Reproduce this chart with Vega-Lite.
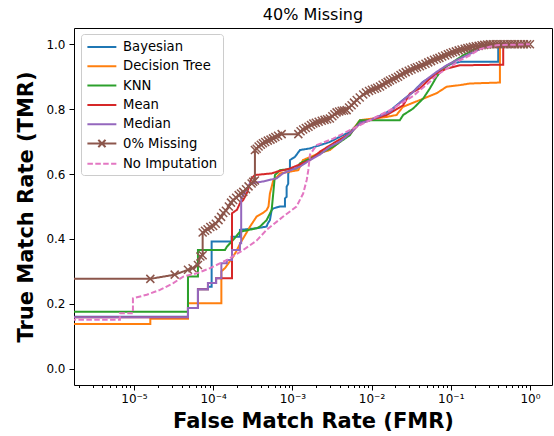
{
  "$schema": "https://vega.github.io/schema/vega-lite/v6.json",
  "width": 478,
  "height": 357,
  "autosize": {"type": "none"},
  "padding": {"left": 74, "top": 28, "right": 2, "bottom": 51},
  "background": "white",
  "title": {"text": "40% Missing", "fontSize": 16, "fontWeight": "normal", "font": "DejaVu Sans", "color": "black", "anchor": "middle", "offset": 5},
  "config": {
    "font": "DejaVu Sans",
    "view": {"stroke": "black", "strokeWidth": 1}
  },
  "data": {"values": [
    {"s":"Bayesian","i":0,"x":1e-6,"y":0.16},{"s":"Bayesian","i":1,"x":4.81e-5,"y":0.16},{"s":"Bayesian","i":2,"x":4.81e-5,"y":0.187},{"s":"Bayesian","i":3,"x":6.43e-5,"y":0.187},{"s":"Bayesian","i":4,"x":6.43e-5,"y":0.245},{"s":"Bayesian","i":5,"x":8.6e-5,"y":0.245},{"s":"Bayesian","i":6,"x":8.6e-5,"y":0.253},{"s":"Bayesian","i":7,"x":9.57e-5,"y":0.253},{"s":"Bayesian","i":8,"x":9.57e-5,"y":0.392},{"s":"Bayesian","i":9,"x":1.71e-4,"y":0.392},{"s":"Bayesian","i":10,"x":1.71e-4,"y":0.407},{"s":"Bayesian","i":11,"x":2.18e-4,"y":0.407},{"s":"Bayesian","i":12,"x":2.18e-4,"y":0.428},{"s":"Bayesian","i":13,"x":3.54e-4,"y":0.433},{"s":"Bayesian","i":14,"x":4.73e-4,"y":0.438},{"s":"Bayesian","i":15,"x":4.9e-4,"y":0.448},{"s":"Bayesian","i":16,"x":5.21e-4,"y":0.458},{"s":"Bayesian","i":17,"x":5.48e-4,"y":0.489},{"s":"Bayesian","i":18,"x":5.74e-4,"y":0.494},{"s":"Bayesian","i":19,"x":6.97e-4,"y":0.5},{"s":"Bayesian","i":20,"x":8.07e-4,"y":0.5},{"s":"Bayesian","i":21,"x":8.07e-4,"y":0.525},{"s":"Bayesian","i":22,"x":8.47e-4,"y":0.53},{"s":"Bayesian","i":23,"x":8.47e-4,"y":0.561},{"s":"Bayesian","i":24,"x":8.87e-4,"y":0.57},{"s":"Bayesian","i":25,"x":8.87e-4,"y":0.602},{"s":"Bayesian","i":26,"x":9.33e-4,"y":0.61},{"s":"Bayesian","i":27,"x":9.33e-4,"y":0.643},{"s":"Bayesian","i":28,"x":1.08e-3,"y":0.653},{"s":"Bayesian","i":29,"x":1.25e-3,"y":0.674},{"s":"Bayesian","i":30,"x":1.67e-3,"y":0.679},{"s":"Bayesian","i":31,"x":2.23e-3,"y":0.689},{"s":"Bayesian","i":32,"x":2.98e-3,"y":0.699},{"s":"Bayesian","i":33,"x":3.99e-3,"y":0.715},{"s":"Bayesian","i":34,"x":5.33e-3,"y":0.73},{"s":"Bayesian","i":35,"x":7.14e-3,"y":0.76},{"s":"Bayesian","i":36,"x":9.55e-3,"y":0.766},{"s":"Bayesian","i":37,"x":0.0128,"y":0.78},{"s":"Bayesian","i":38,"x":0.0171,"y":0.795},{"s":"Bayesian","i":39,"x":0.0249,"y":0.828},{"s":"Bayesian","i":40,"x":0.0333,"y":0.853},{"s":"Bayesian","i":41,"x":0.0446,"y":0.884},{"s":"Bayesian","i":42,"x":0.0669,"y":0.91},{"s":"Bayesian","i":43,"x":0.0895,"y":0.935},{"s":"Bayesian","i":44,"x":0.1306,"y":0.946},{"s":"Bayesian","i":45,"x":0.398,"y":0.946},{"s":"Bayesian","i":46,"x":0.398,"y":0.997},{"s":"Bayesian","i":47,"x":0.46,"y":1.0},{"s":"Bayesian","i":48,"x":1.0,"y":1.0},

    {"s":"Decision Tree","i":0,"x":1e-6,"y":0.138},{"s":"Decision Tree","i":1,"x":1.61e-5,"y":0.138},{"s":"Decision Tree","i":2,"x":1.61e-5,"y":0.154},{"s":"Decision Tree","i":3,"x":4.81e-5,"y":0.154},{"s":"Decision Tree","i":4,"x":4.81e-5,"y":0.202},{"s":"Decision Tree","i":5,"x":1.27e-4,"y":0.202},{"s":"Decision Tree","i":6,"x":1.27e-4,"y":0.3},{"s":"Decision Tree","i":7,"x":1.41e-4,"y":0.31},{"s":"Decision Tree","i":8,"x":1.73e-4,"y":0.34},{"s":"Decision Tree","i":9,"x":1.94e-4,"y":0.36},{"s":"Decision Tree","i":10,"x":2.24e-4,"y":0.39},{"s":"Decision Tree","i":11,"x":2.65e-4,"y":0.42},{"s":"Decision Tree","i":12,"x":2.92e-4,"y":0.438},{"s":"Decision Tree","i":13,"x":3.54e-4,"y":0.469},{"s":"Decision Tree","i":14,"x":4.25e-4,"y":0.48},{"s":"Decision Tree","i":15,"x":4.73e-4,"y":0.489},{"s":"Decision Tree","i":16,"x":5.0e-4,"y":0.5},{"s":"Decision Tree","i":17,"x":5.21e-4,"y":0.54},{"s":"Decision Tree","i":18,"x":5.74e-4,"y":0.58},{"s":"Decision Tree","i":19,"x":6.34e-4,"y":0.59},{"s":"Decision Tree","i":20,"x":6.97e-4,"y":0.602},{"s":"Decision Tree","i":21,"x":1.19e-3,"y":0.612},{"s":"Decision Tree","i":22,"x":1.36e-3,"y":0.643},{"s":"Decision Tree","i":23,"x":2.23e-3,"y":0.665},{"s":"Decision Tree","i":24,"x":2.98e-3,"y":0.674},{"s":"Decision Tree","i":25,"x":3.99e-3,"y":0.7},{"s":"Decision Tree","i":26,"x":5.33e-3,"y":0.725},{"s":"Decision Tree","i":27,"x":7.14e-3,"y":0.766},{"s":"Decision Tree","i":28,"x":0.0155,"y":0.776},{"s":"Decision Tree","i":29,"x":0.0207,"y":0.782},{"s":"Decision Tree","i":30,"x":0.0249,"y":0.807},{"s":"Decision Tree","i":31,"x":0.0408,"y":0.828},{"s":"Decision Tree","i":32,"x":0.0664,"y":0.849},{"s":"Decision Tree","i":33,"x":0.0887,"y":0.869},{"s":"Decision Tree","i":34,"x":0.1306,"y":0.874},{"s":"Decision Tree","i":35,"x":0.175,"y":0.879},{"s":"Decision Tree","i":36,"x":0.418,"y":0.882},{"s":"Decision Tree","i":37,"x":0.418,"y":0.99},{"s":"Decision Tree","i":38,"x":0.484,"y":1.0},{"s":"Decision Tree","i":39,"x":1.0,"y":1.0},

    {"s":"KNN","i":0,"x":1e-6,"y":0.176},{"s":"KNN","i":1,"x":4.81e-5,"y":0.176},{"s":"KNN","i":2,"x":4.81e-5,"y":0.284},{"s":"KNN","i":3,"x":6.43e-5,"y":0.284},{"s":"KNN","i":4,"x":6.43e-5,"y":0.366},{"s":"KNN","i":5,"x":1.41e-4,"y":0.366},{"s":"KNN","i":6,"x":1.49e-4,"y":0.376},{"s":"KNN","i":7,"x":1.79e-4,"y":0.397},{"s":"KNN","i":8,"x":2.18e-4,"y":0.422},{"s":"KNN","i":9,"x":3.54e-4,"y":0.433},{"s":"KNN","i":10,"x":3.9e-4,"y":0.438},{"s":"KNN","i":11,"x":4.73e-4,"y":0.458},{"s":"KNN","i":12,"x":5.48e-4,"y":0.489},{"s":"KNN","i":13,"x":5.74e-4,"y":0.54},{"s":"KNN","i":14,"x":6.03e-4,"y":0.597},{"s":"KNN","i":15,"x":6.97e-4,"y":0.612},{"s":"KNN","i":16,"x":1.13e-3,"y":0.617},{"s":"KNN","i":17,"x":1.25e-3,"y":0.633},{"s":"KNN","i":18,"x":2.03e-3,"y":0.658},{"s":"KNN","i":19,"x":3.28e-3,"y":0.684},{"s":"KNN","i":20,"x":5.33e-3,"y":0.72},{"s":"KNN","i":21,"x":7.14e-3,"y":0.766},{"s":"KNN","i":22,"x":0.0228,"y":0.766},{"s":"KNN","i":23,"x":0.0251,"y":0.782},{"s":"KNN","i":24,"x":0.0336,"y":0.802},{"s":"KNN","i":25,"x":0.045,"y":0.833},{"s":"KNN","i":26,"x":0.0546,"y":0.864},{"s":"KNN","i":27,"x":0.0664,"y":0.9},{"s":"KNN","i":28,"x":0.0804,"y":0.925},{"s":"KNN","i":29,"x":0.1076,"y":0.946},{"s":"KNN","i":30,"x":0.144,"y":0.966},{"s":"KNN","i":31,"x":0.212,"y":0.987},{"s":"KNN","i":32,"x":0.344,"y":1.0},{"s":"KNN","i":33,"x":1.0,"y":1.0},

    {"s":"Mean","i":0,"x":1e-6,"y":0.159},{"s":"Mean","i":1,"x":4.81e-5,"y":0.159},{"s":"Mean","i":2,"x":4.81e-5,"y":0.187},{"s":"Mean","i":3,"x":6.43e-5,"y":0.187},{"s":"Mean","i":4,"x":6.43e-5,"y":0.245},{"s":"Mean","i":5,"x":8.6e-5,"y":0.245},{"s":"Mean","i":6,"x":8.6e-5,"y":0.264},{"s":"Mean","i":7,"x":1.09e-4,"y":0.264},{"s":"Mean","i":8,"x":1.09e-4,"y":0.279},{"s":"Mean","i":9,"x":1.73e-4,"y":0.279},{"s":"Mean","i":10,"x":1.73e-4,"y":0.479},{"s":"Mean","i":11,"x":2.0e-4,"y":0.49},{"s":"Mean","i":12,"x":2.18e-4,"y":0.51},{"s":"Mean","i":13,"x":2.4e-4,"y":0.52},{"s":"Mean","i":14,"x":2.65e-4,"y":0.54},{"s":"Mean","i":15,"x":2.92e-4,"y":0.571},{"s":"Mean","i":16,"x":3.06e-4,"y":0.587},{"s":"Mean","i":17,"x":3.37e-4,"y":0.597},{"s":"Mean","i":18,"x":5.48e-4,"y":0.602},{"s":"Mean","i":19,"x":6.34e-4,"y":0.607},{"s":"Mean","i":20,"x":9.33e-4,"y":0.617},{"s":"Mean","i":21,"x":1.67e-3,"y":0.643},{"s":"Mean","i":22,"x":2.23e-3,"y":0.669},{"s":"Mean","i":23,"x":3.26e-3,"y":0.694},{"s":"Mean","i":24,"x":5.33e-3,"y":0.725},{"s":"Mean","i":25,"x":7.14e-3,"y":0.756},{"s":"Mean","i":26,"x":9.55e-3,"y":0.766},{"s":"Mean","i":27,"x":0.0155,"y":0.782},{"s":"Mean","i":28,"x":0.0251,"y":0.812},{"s":"Mean","i":29,"x":0.0305,"y":0.848},{"s":"Mean","i":30,"x":0.0408,"y":0.864},{"s":"Mean","i":31,"x":0.0546,"y":0.894},{"s":"Mean","i":32,"x":0.0664,"y":0.91},{"s":"Mean","i":33,"x":0.0887,"y":0.925},{"s":"Mean","i":34,"x":0.1306,"y":0.935},{"s":"Mean","i":35,"x":0.46,"y":0.937},{"s":"Mean","i":36,"x":0.46,"y":0.99},{"s":"Mean","i":37,"x":0.5,"y":1.0},{"s":"Mean","i":38,"x":1.0,"y":1.0},

    {"s":"Median","i":0,"x":1e-6,"y":0.159},{"s":"Median","i":1,"x":4.81e-5,"y":0.159},{"s":"Median","i":2,"x":4.81e-5,"y":0.187},{"s":"Median","i":3,"x":6.43e-5,"y":0.187},{"s":"Median","i":4,"x":6.43e-5,"y":0.245},{"s":"Median","i":5,"x":8.6e-5,"y":0.245},{"s":"Median","i":6,"x":8.6e-5,"y":0.264},{"s":"Median","i":7,"x":1.09e-4,"y":0.264},{"s":"Median","i":8,"x":1.09e-4,"y":0.279},{"s":"Median","i":9,"x":1.27e-4,"y":0.279},{"s":"Median","i":10,"x":1.27e-4,"y":0.325},{"s":"Median","i":11,"x":1.49e-4,"y":0.325},{"s":"Median","i":12,"x":1.49e-4,"y":0.335},{"s":"Median","i":13,"x":1.73e-4,"y":0.335},{"s":"Median","i":14,"x":1.73e-4,"y":0.366},{"s":"Median","i":15,"x":2.18e-4,"y":0.366},{"s":"Median","i":16,"x":2.18e-4,"y":0.387},{"s":"Median","i":17,"x":2.26e-4,"y":0.387},{"s":"Median","i":18,"x":2.26e-4,"y":0.525},{"s":"Median","i":19,"x":2.92e-4,"y":0.571},{"s":"Median","i":20,"x":4.25e-4,"y":0.577},{"s":"Median","i":21,"x":6.34e-4,"y":0.587},{"s":"Median","i":22,"x":7.61e-4,"y":0.602},{"s":"Median","i":23,"x":8.47e-4,"y":0.607},{"s":"Median","i":24,"x":1.25e-3,"y":0.623},{"s":"Median","i":25,"x":1.67e-3,"y":0.643},{"s":"Median","i":26,"x":2.23e-3,"y":0.66},{"s":"Median","i":27,"x":2.98e-3,"y":0.684},{"s":"Median","i":28,"x":3.99e-3,"y":0.7},{"s":"Median","i":29,"x":5.33e-3,"y":0.725},{"s":"Median","i":30,"x":7.14e-3,"y":0.756},{"s":"Median","i":31,"x":9.55e-3,"y":0.766},{"s":"Median","i":32,"x":0.0171,"y":0.792},{"s":"Median","i":33,"x":0.0251,"y":0.828},{"s":"Median","i":34,"x":0.0336,"y":0.853},{"s":"Median","i":35,"x":0.045,"y":0.884},{"s":"Median","i":36,"x":0.0664,"y":0.915},{"s":"Median","i":37,"x":0.0887,"y":0.935},{"s":"Median","i":38,"x":0.1187,"y":0.951},{"s":"Median","i":39,"x":0.16,"y":0.966},{"s":"Median","i":40,"x":0.234,"y":0.985},{"s":"Median","i":41,"x":0.341,"y":1.0},{"s":"Median","i":42,"x":1.0,"y":1.0},

    {"s":"0% Missing","i":0,"x":1e-6,"y":0.277},{"s":"0% Missing","i":1,"x":1.61e-5,"y":0.277},{"s":"0% Missing","i":2,"x":3.27e-5,"y":0.29},{"s":"0% Missing","i":3,"x":4.81e-5,"y":0.305},{"s":"0% Missing","i":4,"x":5.5e-5,"y":0.31},{"s":"0% Missing","i":5,"x":6.43e-5,"y":0.32},{"s":"0% Missing","i":6,"x":6.9e-5,"y":0.346},{"s":"0% Missing","i":7,"x":7.37e-5,"y":0.35},
    {"s":"0% Missing","i":8,"x":7.37e-5,"y":0.42},{"s":"0% Missing","i":9,"x":7.9e-5,"y":0.425},{"s":"0% Missing","i":10,"x":8.5e-5,"y":0.43},{"s":"0% Missing","i":11,"x":9.2e-5,"y":0.437},{"s":"0% Missing","i":12,"x":1.0e-4,"y":0.44},{"s":"0% Missing","i":13,"x":1.08e-4,"y":0.447},{"s":"0% Missing","i":14,"x":1.17e-4,"y":0.458},{"s":"0% Missing","i":15,"x":1.26e-4,"y":0.468},{"s":"0% Missing","i":16,"x":1.34e-4,"y":0.48},{"s":"0% Missing","i":17,"x":1.45e-4,"y":0.487},{"s":"0% Missing","i":18,"x":1.58e-4,"y":0.5},{"s":"0% Missing","i":19,"x":1.68e-4,"y":0.512},{"s":"0% Missing","i":20,"x":1.79e-4,"y":0.52},{"s":"0% Missing","i":21,"x":1.95e-4,"y":0.527},{"s":"0% Missing","i":22,"x":2.1e-4,"y":0.535},{"s":"0% Missing","i":23,"x":2.25e-4,"y":0.54},{"s":"0% Missing","i":24,"x":2.4e-4,"y":0.545},{"s":"0% Missing","i":25,"x":2.6e-4,"y":0.553},{"s":"0% Missing","i":26,"x":2.8e-4,"y":0.562},{"s":"0% Missing","i":27,"x":3.06e-4,"y":0.571},{"s":"0% Missing","i":28,"x":3.2e-4,"y":0.576},{"s":"0% Missing","i":29,"x":3.37e-4,"y":0.58},
    {"s":"0% Missing","i":30,"x":3.37e-4,"y":0.674},{"s":"0% Missing","i":31,"x":3.55e-4,"y":0.678},{"s":"0% Missing","i":32,"x":3.75e-4,"y":0.685},{"s":"0% Missing","i":33,"x":4.0e-4,"y":0.69},{"s":"0% Missing","i":34,"x":4.25e-4,"y":0.695},{"s":"0% Missing","i":35,"x":4.55e-4,"y":0.699},{"s":"0% Missing","i":36,"x":4.9e-4,"y":0.703},{"s":"0% Missing","i":37,"x":5.3e-4,"y":0.706},{"s":"0% Missing","i":38,"x":5.7e-4,"y":0.71},{"s":"0% Missing","i":39,"x":6.1e-4,"y":0.714},{"s":"0% Missing","i":40,"x":6.6e-4,"y":0.718},{"s":"0% Missing","i":41,"x":7.33e-4,"y":0.723},
    {"s":"0% Missing","i":42,"x":1.19e-3,"y":0.723},{"s":"0% Missing","i":43,"x":1.27e-3,"y":0.732},{"s":"0% Missing","i":44,"x":1.37e-3,"y":0.737},{"s":"0% Missing","i":45,"x":1.48e-3,"y":0.742},{"s":"0% Missing","i":46,"x":1.6e-3,"y":0.746},{"s":"0% Missing","i":47,"x":1.72e-3,"y":0.751},{"s":"0% Missing","i":48,"x":1.84e-3,"y":0.756},{"s":"0% Missing","i":49,"x":1.98e-3,"y":0.758},{"s":"0% Missing","i":50,"x":2.15e-3,"y":0.761},{"s":"0% Missing","i":51,"x":2.35e-3,"y":0.764},{"s":"0% Missing","i":52,"x":2.55e-3,"y":0.767},{"s":"0% Missing","i":53,"x":2.75e-3,"y":0.769},{"s":"0% Missing","i":54,"x":2.98e-3,"y":0.771},{"s":"0% Missing","i":55,"x":3.2e-3,"y":0.778},{"s":"0% Missing","i":56,"x":3.4e-3,"y":0.784},{"s":"0% Missing","i":57,"x":3.62e-3,"y":0.79},{"s":"0% Missing","i":58,"x":3.9e-3,"y":0.793},{"s":"0% Missing","i":59,"x":4.2e-3,"y":0.795},{"s":"0% Missing","i":60,"x":4.5e-3,"y":0.796},{"s":"0% Missing","i":61,"x":4.85e-3,"y":0.797},{"s":"0% Missing","i":62,"x":5.2e-3,"y":0.805},{"s":"0% Missing","i":63,"x":5.6e-3,"y":0.812},{"s":"0% Missing","i":64,"x":6.0e-3,"y":0.82},{"s":"0% Missing","i":65,"x":6.5e-3,"y":0.828},{"s":"0% Missing","i":66,"x":7.1e-3,"y":0.836},{"s":"0% Missing","i":67,"x":7.85e-3,"y":0.845},{"s":"0% Missing","i":68,"x":8.5e-3,"y":0.851},{"s":"0% Missing","i":69,"x":9.3e-3,"y":0.856},{"s":"0% Missing","i":70,"x":0.0101,"y":0.86},{"s":"0% Missing","i":71,"x":0.011,"y":0.863},{"s":"0% Missing","i":72,"x":0.0118,"y":0.866},{"s":"0% Missing","i":73,"x":0.0128,"y":0.87},{"s":"0% Missing","i":74,"x":0.0138,"y":0.875},{"s":"0% Missing","i":75,"x":0.015,"y":0.88},{"s":"0% Missing","i":76,"x":0.016,"y":0.884},{"s":"0% Missing","i":77,"x":0.0171,"y":0.888},{"s":"0% Missing","i":78,"x":0.0185,"y":0.892},{"s":"0% Missing","i":79,"x":0.02,"y":0.896},{"s":"0% Missing","i":80,"x":0.0216,"y":0.9},{"s":"0% Missing","i":81,"x":0.0232,"y":0.905},{"s":"0% Missing","i":82,"x":0.0249,"y":0.91},{"s":"0% Missing","i":83,"x":0.027,"y":0.914},{"s":"0% Missing","i":84,"x":0.0295,"y":0.918},{"s":"0% Missing","i":85,"x":0.032,"y":0.922},{"s":"0% Missing","i":86,"x":0.035,"y":0.926},{"s":"0% Missing","i":87,"x":0.0375,"y":0.929},{"s":"0% Missing","i":88,"x":0.0408,"y":0.932},{"s":"0% Missing","i":89,"x":0.044,"y":0.936},{"s":"0% Missing","i":90,"x":0.048,"y":0.94},{"s":"0% Missing","i":91,"x":0.052,"y":0.944},{"s":"0% Missing","i":92,"x":0.0565,"y":0.948},{"s":"0% Missing","i":93,"x":0.0615,"y":0.952},{"s":"0% Missing","i":94,"x":0.0669,"y":0.955},{"s":"0% Missing","i":95,"x":0.072,"y":0.958},{"s":"0% Missing","i":96,"x":0.078,"y":0.962},{"s":"0% Missing","i":97,"x":0.085,"y":0.965},{"s":"0% Missing","i":98,"x":0.092,"y":0.969},{"s":"0% Missing","i":99,"x":0.099,"y":0.972},{"s":"0% Missing","i":100,"x":0.1066,"y":0.975},{"s":"0% Missing","i":101,"x":0.116,"y":0.978},{"s":"0% Missing","i":102,"x":0.126,"y":0.981},{"s":"0% Missing","i":103,"x":0.137,"y":0.984},{"s":"0% Missing","i":104,"x":0.15,"y":0.986},{"s":"0% Missing","i":105,"x":0.162,"y":0.988},{"s":"0% Missing","i":106,"x":0.175,"y":0.99},{"s":"0% Missing","i":107,"x":0.19,"y":0.992},{"s":"0% Missing","i":108,"x":0.207,"y":0.994},{"s":"0% Missing","i":109,"x":0.225,"y":0.995},{"s":"0% Missing","i":110,"x":0.245,"y":0.997},{"s":"0% Missing","i":111,"x":0.265,"y":0.998},{"s":"0% Missing","i":112,"x":0.288,"y":0.999},{"s":"0% Missing","i":113,"x":0.313,"y":1.0},{"s":"0% Missing","i":114,"x":0.34,"y":1.0},{"s":"0% Missing","i":115,"x":0.37,"y":1.0},{"s":"0% Missing","i":116,"x":0.4,"y":1.0},{"s":"0% Missing","i":117,"x":0.435,"y":1.0},{"s":"0% Missing","i":118,"x":0.47,"y":1.0},{"s":"0% Missing","i":119,"x":0.51,"y":1.0},{"s":"0% Missing","i":120,"x":0.555,"y":1.0},{"s":"0% Missing","i":121,"x":0.6,"y":1.0},{"s":"0% Missing","i":122,"x":0.65,"y":1.0},{"s":"0% Missing","i":123,"x":0.71,"y":1.0},{"s":"0% Missing","i":124,"x":0.77,"y":1.0},{"s":"0% Missing","i":125,"x":0.84,"y":1.0},{"s":"0% Missing","i":126,"x":0.92,"y":1.0},{"s":"0% Missing","i":127,"x":1.0,"y":1.0},

    {"s":"No Imputation","i":0,"x":1e-6,"y":0.151},{"s":"No Imputation","i":1,"x":6.65e-6,"y":0.151},{"s":"No Imputation","i":2,"x":6.65e-6,"y":0.171},{"s":"No Imputation","i":3,"x":9.71e-6,"y":0.171},{"s":"No Imputation","i":4,"x":9.71e-6,"y":0.217},{"s":"No Imputation","i":5,"x":1.45e-5,"y":0.228},{"s":"No Imputation","i":6,"x":2.13e-5,"y":0.243},{"s":"No Imputation","i":7,"x":3.14e-5,"y":0.264},{"s":"No Imputation","i":8,"x":4.19e-5,"y":0.284},{"s":"No Imputation","i":9,"x":6.19e-5,"y":0.294},{"s":"No Imputation","i":10,"x":9.12e-5,"y":0.31},{"s":"No Imputation","i":11,"x":1.48e-4,"y":0.335},{"s":"No Imputation","i":12,"x":2.4e-4,"y":0.366},{"s":"No Imputation","i":13,"x":3.54e-4,"y":0.395},{"s":"No Imputation","i":14,"x":4.73e-4,"y":0.428},{"s":"No Imputation","i":15,"x":7.67e-4,"y":0.469},{"s":"No Imputation","i":16,"x":1.13e-3,"y":0.5},{"s":"No Imputation","i":17,"x":1.37e-3,"y":0.54},{"s":"No Imputation","i":18,"x":1.52e-3,"y":0.582},{"s":"No Imputation","i":19,"x":1.59e-3,"y":0.612},{"s":"No Imputation","i":20,"x":1.67e-3,"y":0.66},{"s":"No Imputation","i":21,"x":2.03e-3,"y":0.689},{"s":"No Imputation","i":22,"x":3.28e-3,"y":0.709},{"s":"No Imputation","i":23,"x":5.33e-3,"y":0.735},{"s":"No Imputation","i":24,"x":8.67e-3,"y":0.761},{"s":"No Imputation","i":25,"x":0.0128,"y":0.782},{"s":"No Imputation","i":26,"x":0.0171,"y":0.797},{"s":"No Imputation","i":27,"x":0.0228,"y":0.815},{"s":"No Imputation","i":28,"x":0.0333,"y":0.84},{"s":"No Imputation","i":29,"x":0.0408,"y":0.858},{"s":"No Imputation","i":30,"x":0.0546,"y":0.884},{"s":"No Imputation","i":31,"x":0.0669,"y":0.905},{"s":"No Imputation","i":32,"x":0.0895,"y":0.925},{"s":"No Imputation","i":33,"x":0.1306,"y":0.95},{"s":"No Imputation","i":34,"x":0.175,"y":0.966},{"s":"No Imputation","i":35,"x":0.234,"y":0.985},{"s":"No Imputation","i":36,"x":0.38,"y":0.997},{"s":"No Imputation","i":37,"x":1.0,"y":1.0}
  ]},
  "encoding": {
    "x": {
      "field": "x", "type": "quantitative",
      "scale": {"type": "log", "domain": [1.75e-6, 1.9], "nice": false},
      "axis": {
        "title": "False Match Rate (FMR)",
        "values": [2e-6,3e-6,4e-6,5e-6,6e-6,7e-6,8e-6,9e-6,1e-5,2e-5,3e-5,4e-5,5e-5,6e-5,7e-5,8e-5,9e-5,1e-4,2e-4,3e-4,4e-4,5e-4,6e-4,7e-4,8e-4,9e-4,1e-3,2e-3,3e-3,4e-3,5e-3,6e-3,7e-3,8e-3,9e-3,0.01,0.02,0.03,0.04,0.05,0.06,0.07,0.08,0.09,0.1,0.2,0.3,0.4,0.5,0.6,0.7,0.8,0.9,1],
        "labelExpr": "datum.value == 1e-5 ? '10⁻⁵' : datum.value == 1e-4 ? '10⁻⁴' : datum.value == 1e-3 ? '10⁻³' : datum.value == 0.01 ? '10⁻²' : datum.value == 0.1 ? '10⁻¹' : datum.value == 1 ? '10⁰' : ''",
        "tickSize": {"condition": {"test": "datum.value == 1e-5 || datum.value == 1e-4 || datum.value == 1e-3 || datum.value == 0.01 || datum.value == 0.1 || datum.value == 1", "value": 5}, "value": 2.5},
        "grid": false, "domain": false,
        "tickColor": "black", "tickWidth": 1,
        "labelColor": "black", "labelFontSize": 12, "labelFont": "DejaVu Sans", "labelPadding": 3,
        "labelOverlap": false, "labelFlush": false,
        "titleFont": "DejaVu Sans", "titleFontSize": 21, "titleFontWeight": "bold", "titleColor": "black", "titlePadding": 6
      }
    },
    "y": {
      "field": "y", "type": "quantitative",
      "scale": {"domain": [-0.05, 1.05], "nice": false, "zero": false},
      "axis": {
        "title": "True Match Rate (TMR)",
        "values": [0, 0.2, 0.4, 0.6, 0.8, 1.0],
        "format": ".1f",
        "grid": false, "domain": false,
        "tickSize": 5, "tickColor": "black", "tickWidth": 1,
        "labelColor": "black", "labelFontSize": 12, "labelFont": "DejaVu Sans", "labelPadding": 4,
        "titleFont": "DejaVu Sans", "titleFontSize": 21, "titleFontWeight": "bold", "titleColor": "black", "titlePadding": 9
      }
    },
    "order": {"field": "i", "type": "quantitative"}
  },
  "layer": [
    {
      "transform": [{"filter": "datum.s != 'No Imputation'"}],
      "mark": {"type": "line", "strokeWidth": 2, "clip": true},
      "encoding": {
        "color": {
          "field": "s", "type": "nominal",
          "scale": {"domain": ["Bayesian","Decision Tree","KNN","Mean","Median","0% Missing","No Imputation"], "range": ["#1f77b4","#ff7f0e","#2ca02c","#d62728","#9467bd","#8c564b","#e377c2"]},
          "legend": {
            "title": null, "orient": "none", "legendX": 7, "legendY": 6,
            "fillColor": "white", "strokeColor": "#cccccc", "cornerRadius": 3, "padding": 5,
            "symbolType": "M-1,0L3.39,0", "symbolSize": 174, "symbolStrokeWidth": 2, "symbolOffset": 0,
            "labelFontSize": 13.2, "labelFont": "DejaVu Sans", "labelColor": "black", "labelOffset": 21, "labelLimit": 0,
            "rowPadding": 4.3,
            "encode": {"symbols": {"update": {"shape": {"signal": "datum.value === '0% Missing' ? 'M-1,0L3.39,0M0.65,-0.55L1.75,0.55M0.65,0.55L1.75,-0.55' : 'M-1,0L3.39,0'"}}}}
          }
        },
        "strokeDash": {
          "field": "s", "type": "nominal",
          "scale": {"domain": ["Bayesian","Decision Tree","KNN","Mean","Median","0% Missing","No Imputation"], "range": [[1,0],[1,0],[1,0],[1,0],[1,0],[1,0],[5.5,2.4]]},
          "legend": {
            "title": null, "orient": "none", "legendX": 7, "legendY": 6,
            "fillColor": "white", "strokeColor": "#cccccc", "cornerRadius": 3, "padding": 5,
            "symbolType": "M-1,0L3.39,0", "symbolSize": 174, "symbolStrokeWidth": 2, "symbolOffset": 0,
            "labelFontSize": 13.2, "labelFont": "DejaVu Sans", "labelColor": "black", "labelOffset": 21, "labelLimit": 0,
            "rowPadding": 4.3,
            "encode": {"symbols": {"update": {"shape": {"signal": "datum.value === '0% Missing' ? 'M-1,0L3.39,0M0.65,-0.55L1.75,0.55M0.65,0.55L1.75,-0.55' : 'M-1,0L3.39,0'"}}}}
          }
        }
      }
    },
    {
      "transform": [{"filter": "datum.s == '0% Missing'"}],
      "mark": {"type": "point", "shape": "M-1,-1L1,1M-1,1L1,-1", "size": 64, "filled": false, "strokeWidth": 1.5, "opacity": 1, "clip": true, "color": "#8c564b"}
    },
    {
      "transform": [{"filter": "datum.s == 'No Imputation'"}],
      "mark": {"type": "line", "strokeWidth": 2, "clip": true},
      "encoding": {
        "color": {"field": "s", "type": "nominal", "scale": {"domain": ["Bayesian","Decision Tree","KNN","Mean","Median","0% Missing","No Imputation"]}},
        "strokeDash": {"field": "s", "type": "nominal", "scale": {"domain": ["Bayesian","Decision Tree","KNN","Mean","Median","0% Missing","No Imputation"]}}
      }
    }
  ]
}
